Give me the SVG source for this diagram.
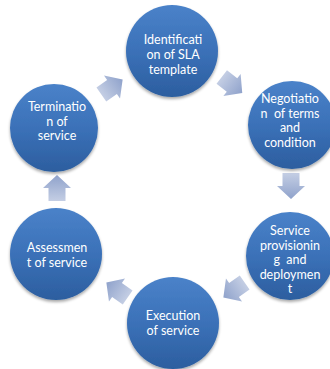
<svg xmlns="http://www.w3.org/2000/svg" width="330" height="369" viewBox="0 0 330 369">
  <defs>
    <linearGradient id="disc" x1="0" y1="0" x2="0" y2="1">
      <stop offset="0" stop-color="#4a82c9"/>
      <stop offset="0.5" stop-color="#3b71b8"/>
      <stop offset="1" stop-color="#2c5e9f"/>
    </linearGradient>
    <linearGradient id="arr" x1="0" y1="0" x2="1" y2="0">
      <stop offset="0" stop-color="#c4cee4"/>
      <stop offset="1" stop-color="#8fa2cb"/>
    </linearGradient>
    <path id="arrow" d="M-13,-8.5 H0 V-14 L13,0 L0,14 V8.5 H-13 Z"/>
    <filter id="shade" x="-20%" y="-20%" width="140%" height="150%">
      <feGaussianBlur in="SourceAlpha" stdDeviation="1.5"/>
      <feOffset dy="2" result="b"/>
      <feComponentTransfer><feFuncA type="linear" slope="0.35"/></feComponentTransfer>
      <feMerge><feMergeNode/><feMergeNode in="SourceGraphic"/></feMerge>
    </filter>
  </defs>
  <style>
    .node circle { fill: url(#disc); filter: url(#shade); }
    .node text { fill: #ffffff; font-family: Lato, "Open Sans", sans-serif; font-size: 12.5px; text-anchor: middle; white-space: pre; }
    .links use { fill: url(#arr); }
  </style>
  <rect width="330" height="369" fill="#ffffff"/>

  <g id="connectors" class="links">
    <use href="#arrow" transform="translate(112,87) rotate(-35)"/>
    <use href="#arrow" transform="translate(232,85) rotate(38)"/>
    <use href="#arrow" transform="translate(291,186) rotate(90)"/>
    <use href="#arrow" transform="translate(234,290) rotate(145)"/>
    <use href="#arrow" transform="translate(117,290) rotate(-145)"/>
    <use href="#arrow" transform="translate(57,188) rotate(-90)"/>
  </g>

  <g id="identification" class="node">
    <circle cx="172" cy="51" r="46"/>
    <text x="173" y="44">Identificati</text>
    <text x="173" y="59">on of SLA</text>
    <text x="173" y="74">template</text>
  </g>

  <g id="negotiation" class="node">
    <circle cx="292" cy="125" r="44"/>
    <text x="290" y="103">Negotiatio</text>
    <text x="290" y="117.5">n  of terms</text>
    <text x="290" y="132">and</text>
    <text x="290" y="146.5">condition</text>
  </g>

  <g id="provisioning" class="node">
    <circle cx="290" cy="256" r="44"/>
    <text x="290" y="235">Service</text>
    <text x="290" y="249.5">provisionin</text>
    <text x="290" y="264">g  and</text>
    <text x="290" y="278.5">deploymen</text>
    <text x="290" y="293">t</text>
  </g>

  <g id="execution" class="node">
    <circle cx="173" cy="323" r="46"/>
    <text x="173" y="320">Execution</text>
    <text x="173" y="334.5">of service</text>
  </g>

  <g id="assessment" class="node">
    <circle cx="56" cy="254" r="46"/>
    <text x="57" y="252">Assessmen</text>
    <text x="57" y="266.5">t of service</text>
  </g>

  <g id="termination" class="node">
    <circle cx="54" cy="128" r="44"/>
    <text x="57" y="111">Terminatio</text>
    <text x="57" y="125.5">n of</text>
    <text x="57" y="140">service</text>
  </g>
</svg>
